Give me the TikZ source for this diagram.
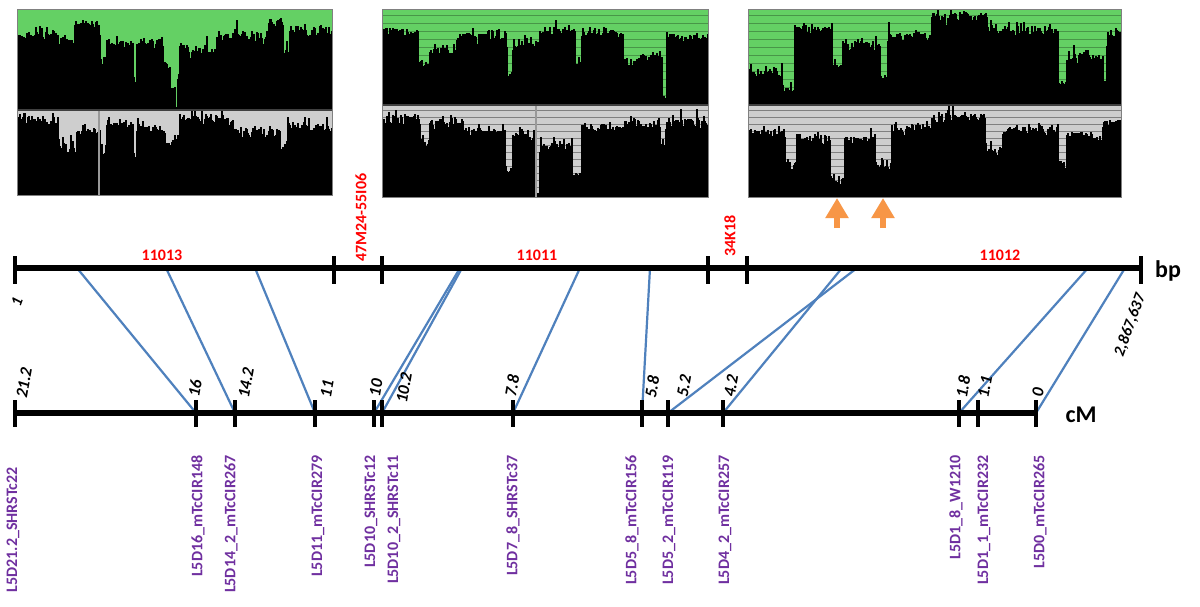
\documentclass[tikz,border=0pt]{standalone}
\usepackage{fontspec}
\setmainfont{Carlito}
\usetikzlibrary{arrows.meta,calc}

\definecolor{covgreen}{RGB}{100,208,100}
\definecolor{stripegreen}{RGB}{72,150,72}
\definecolor{covgray}{RGB}{206,206,206}
\definecolor{stripegray}{RGB}{128,128,128}
\definecolor{linkblue}{RGB}{79,129,189}
\definecolor{markpurple}{RGB}{112,48,160}
\definecolor{arroworange}{RGB}{247,150,70}

% coverage profile: #1 = base line, #2 = list of from/to/level
\newcommand{\coverage}[2]{%
  \foreach \xa/\xb/\lev in {#2} {
    \draw[black, line width=0.6pt]
      \foreach \x in {\xa,...,\xb} { (\x,#1) -- (\x,{\lev+4*rand+14*rand*rand*rand+30*rand*rand*rand*rand*rand}) };
  }%
}

\begin{document}
\begin{tikzpicture}[x=0.5pt, y=-0.5pt,
    axis/.style={line width=3pt, black},
    tick/.style={line width=2pt, black},
    link/.style={line width=1.1pt, linkblue},
    seglabel/.style={text=red, font=\bfseries\fontsize{8}{9}\selectfont, inner sep=0pt},
    cmlabel/.style={font=\bfseries\itshape\fontsize{8.5}{10}\selectfont, rotate=80, inner sep=0pt},
    marker/.style={text=markpurple, font=\bfseries\fontsize{8}{9}\selectfont, rotate=90, anchor=east, inner sep=0pt},
    unit/.style={font=\bfseries\fontsize{12}{14}\selectfont, inner sep=0pt},
    hint/.style={-{Triangle[width=11pt,length=10pt]}, line width=3pt, arroworange}
  ]
  \useasboundingbox (0,0) rectangle (1200,606);
  \fill[white] (0,0) rectangle (1200,606);
  \pgfmathsetseed{7}

  % panel 1
  \fill[covgreen] (17,9) rectangle (332,109);
  \fill[covgray] (17,109) rectangle (332,195);
  \begin{scope}
    \clip (17,9) rectangle (332,109);
    \coverage{109}{17/57/35, 57/72/40, 72/75/46, 75/100/24, 100/107/60, 107/133/43,
      133/137/80, 137/163/43, 163/170/65, 170/175/90, 175/178/105, 178/180/80,
      180/217/50, 217/267/37, 267/283/23, 283/290/52, 290/332/30}
  \end{scope}
  \begin{scope}
    \clip (17,110) rectangle (332,195);
    \coverage{195}{17/58/120, 58/77/147, 77/100/132, 100/107/150, 107/133/125,
      133/137/157, 137/165/128, 165/180/140, 180/233/118, 233/280/132,
      280/288/147, 288/332/128}
  \end{scope}
  \draw[gray!80, line width=0.6pt] (99,111) -- (99,195);
  \draw[darkgray, line width=1pt] (17,109.5) -- (332,109.5);
  \draw[gray, line width=0.4pt] (17,9) rectangle (332,195);

  % panel 2
  \fill[covgreen] (382,9) rectangle (708,104);
  \fill[covgray] (382,104) rectangle (708,197);
  \foreach \y in {15,23,...,103}
    \draw[stripegreen, line width=0.5pt] (382,\y) -- (708,\y);
  \foreach \y in {110,117,...,196}
    \draw[stripegray, line width=0.5pt] (382,\y) -- (708,\y);
  \begin{scope}
    \clip (382,9) rectangle (708,104);
    \coverage{104}{382/418/32, 418/430/65, 430/457/50, 457/507/37, 507/513/75,
      513/540/43, 540/575/30, 575/582/65, 582/623/33, 623/637/65, 637/662/57,
      662/667/100, 667/708/38}
  \end{scope}
  \begin{scope}
    \clip (382,106) rectangle (708,197);
    \coverage{197}{382/420/118, 420/430/143, 430/463/123, 463/505/132, 505/513/172,
      513/536/135, 536/540/193, 540/572/147, 572/582/173, 582/625/128,
      625/660/123, 660/666/147, 666/708/123}
  \end{scope}
  \draw[gray!80, line width=0.6pt] (536,106) -- (536,197);
  \draw[darkgray, line width=1pt] (382,104.5) -- (708,104.5);
  \draw[gray, line width=0.4pt] (382,9) rectangle (708,197);

  % panel 3
  \fill[covgreen] (748,9) rectangle (1121,104);
  \fill[covgray] (748,104) rectangle (1121,197);
  \foreach \y in {15,23,...,103}
    \draw[stripegreen, line width=0.5pt] (748,\y) -- (1121,\y);
  \foreach \y in {110,117,...,196}
    \draw[stripegray, line width=0.5pt] (748,\y) -- (1121,\y);
  \begin{scope}
    \clip (748,9) rectangle (1121,104);
    \coverage{104}{748/782/73, 782/795/90, 795/832/30, 832/843/67, 843/880/43,
      880/888/75, 888/932/37, 932/987/17, 987/1058/30, 1058/1067/83,
      1067/1103/57, 1103/1107/83, 1107/1121/33}
  \end{scope}
  \begin{scope}
    \clip (748,106) rectangle (1121,197);
    \coverage{197}{748/785/132, 785/797/167, 797/830/137, 830/845/180, 845/875/140,
      875/892/167, 892/932/128, 932/985/118, 985/1003/150, 1003/1058/130,
      1058/1067/167, 1067/1103/137, 1103/1121/123}
  \end{scope}
  \draw[darkgray, line width=1pt] (748,104.5) -- (1121,104.5);
  \draw[gray, line width=0.4pt] (748,9) rectangle (1121,197);

  % dips
  \coordinate (dip1) at (837,198);
  \coordinate (dip2) at (883,198);
  \draw[hint] ($(dip1)+(0,30)$) -- (dip1);
  \draw[hint] ($(dip2)+(0,30)$) -- (dip2);

  % anchors on both maps
  \foreach \x [count=\i] in {77,166,255,460,462,580,650,842,857,1088,1125}
    \coordinate (bp\i) at (\x,268);
  \foreach \x [count=\i] in {15,196,235,315,374,382,513,642,668,723,959,978,1036}
    \coordinate (cm\i) at (\x,413);

  \foreach \i/\j in {1/2,2/3,3/4,4/5,5/6,6/7,7/8,8/10,9/9,10/11,11/13}
    \draw[link] (bp\i) -- (cm\j);

  % physical map
  \draw[axis] (15,268) -- (1141,268);
  \foreach \x in {15,334,382,708,747,1141}
    \draw[tick] (\x,256) -- (\x,284);
  \node[seglabel] (s11013) at (162,255) {11013};
  \node[seglabel] (s11011) at (537,255) {11011};
  \node[seglabel] (s11012) at (1000,255) {11012};
  \node[seglabel, rotate=90, anchor=west] (bac1) at (361,262) {47M24-55I06};
  \node[seglabel, rotate=90, anchor=west] (bac2) at (730,257) {34K18};
  \node[unit] (bp) at (1168,271) {bp};
  \node[font=\bfseries\itshape\fontsize{8}{9}\selectfont, rotate=70, inner sep=0pt] (bpstart) at (17,302) {1};
  \node[font=\bfseries\itshape\fontsize{8}{9}\selectfont, rotate=70, inner sep=0pt] (bpend) at (1130,325) {2,867,637};

  % genetic map
  \draw[axis] (15,413) -- (1036,413);
  \foreach \i in {1,...,13}
    \draw[tick] ($(cm\i)+(0,-13)$) -- ($(cm\i)+(0,14)$);
  \node[unit] (cM) at (1081,415) {cM};
  \foreach \lx/\ly/\v [count=\i] in {24/383/21.2, 195/388/16, 246/383/14.2, 327/389/11,
      376/388/10, 404/388/10.2, 512/386/7.8, 652/387/5.8, 684/386/5.2, 731/386/4.2,
      963/387/1.8, 985/387/1.1, 1038/392/0}
    \node[cmlabel] (cml\i) at (\lx,\ly) {\v};
  \foreach \mx/\my/\m [count=\i] in {13/467/L5D21.2\_SHRSTc22, 198/455/L5D16\_mTcCIR148,
      231/455/L5D14\_2\_mTcCIR267, 318/455/L5D11\_mTcCIR279, 371/455/L5D10\_SHRSTc12,
      394/455/L5D10\_2\_SHRSTc11, 513/455/L5D7\_8\_SHRSTc37, 632/455/L5D5\_8\_mTcCIR156,
      669/455/L5D5\_2\_mTcCIR119, 725/455/L5D4\_2\_mTcCIR257, 956/455/L5D1\_8\_W1210,
      984/455/L5D1\_1\_mTcCIR232, 1040/455/L5D0\_mTcCIR265}
    \node[marker] (mk\i) at (\mx,\my) {\m};
\end{tikzpicture}
\end{document}
